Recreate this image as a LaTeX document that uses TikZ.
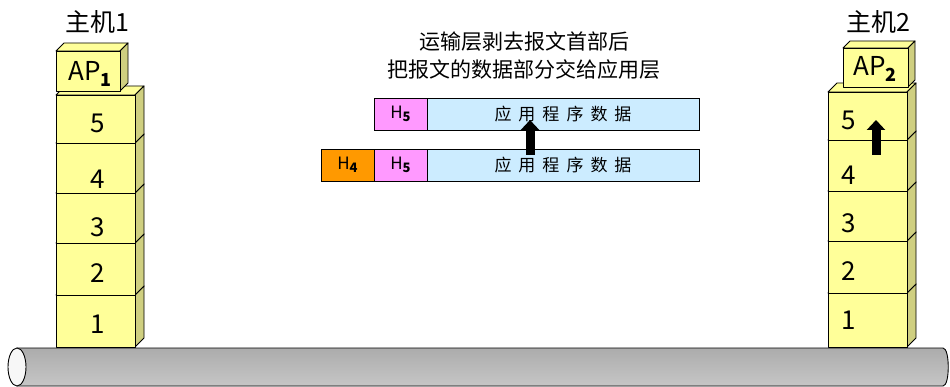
\documentclass[tikz,border=0pt]{standalone}
\usepackage{fontspec}
\setmainfont{Noto Sans CJK SC}
\usetikzlibrary{arrows.meta}
\definecolor{boxfront}{HTML}{FFFF99}
\definecolor{boxside}{HTML}{CFCF80}
\definecolor{hfour}{HTML}{FF9900}
\definecolor{hfive}{HTML}{FF99FF}
\definecolor{appdata}{HTML}{CCECFF}
\newcommand{\prismbox}[5]{%
  \filldraw[boxline,fill=boxfront] (#1,#2) -- (#1+#5,#2-#5) -- (#3+#5,#2-#5) -- (#3,#2) -- cycle;
  \filldraw[boxline,fill=boxside] (#3,#2) -- (#3+#5,#2-#5) -- (#3+#5,#4-#5) -- (#3,#4) -- cycle;
  \filldraw[boxline,fill=boxfront] (#1,#2) rectangle (#3,#4);
}
\newcommand{\subb}[1]{\raisebox{-0.4ex}{\fontsize{18}{18}\selectfont\bfseries #1}}
\newcommand{\subs}[1]{\raisebox{-0.35ex}{\fontsize{13}{13}\selectfont\bfseries #1}}
\begin{document}
\begin{tikzpicture}[x=1pt,y=-1pt,
  boxline/.style={draw=black,line width=0.9pt,line join=round},
  biglabel/.style={inner sep=0pt,font=\fontsize{25}{28}\selectfont},
  numlabel/.style={inner sep=0pt,font=\fontsize{26}{28}\selectfont},
  cell/.style={draw=black,line width=0.7pt,inner sep=0pt,minimum height=32pt,font=\fontsize{17}{20}\selectfont},
  blockarrow/.style={line width=9pt,-{Triangle[width=18pt,length=10pt]}}]
\useasboundingbox (0,0) rectangle (950,387);
% pipe
\shade[top color=gray!65,middle color=gray!10,bottom color=gray!45,draw=black,line width=0.9pt]
  (17,348) -- (943,348) .. controls (950,348) and (950,386) .. (943,386) -- (17,386) -- cycle;
\filldraw[fill=gray!6,draw=black,line width=0.9pt] (17,367) ellipse[x radius=9,y radius=19];
% host 1
\foreach \a/\b in {295/347,243/295,193/243,143/193,95/143} {\prismbox{56}{\a}{135}{\b}{9}}
\prismbox{56}{51}{120}{91}{8}
\node[biglabel] (h1) at (97,22) {主机1};
\node[numlabel] (a1) at (90,74) {AP\subb{1}};
\node[numlabel] (n15) at (98,123) {5};
\node[numlabel] (n14) at (98,179) {4};
\node[numlabel] (n13) at (98,227) {3};
\node[numlabel] (n12) at (98,273) {2};
\node[numlabel] (n11) at (98,324) {1};
% host 2
\foreach \a/\b in {293/347,241/293,191/241,140/191,92/140} {\prismbox{828}{\a}{907}{\b}{9}}
\prismbox{843}{48}{908}{87}{7}
\node[biglabel] (h2) at (878,22) {主机2};
\node[numlabel] (a2) at (875,69) {AP\subb{2}};
\node[numlabel] (n25) at (849,120) {5};
\node[numlabel] (n24) at (849,175) {4};
\node[numlabel] (n23) at (849,223) {3};
\node[numlabel] (n22) at (849,271) {2};
\node[numlabel] (n21) at (849,320) {1};
\coordinate (u2s) at (876,155);
\coordinate (u2e) at (876,120);
\draw[blockarrow] (u2s) -- (u2e);
% caption
\node[inner sep=0pt,align=center,font=\fontsize{21}{28}\selectfont] (cap) at (524,56) {运输层剥去报文首部后\\把报文的数据部分交给应用层};
% upper bar
\node[cell,fill=hfive,minimum width=53pt] (uh5) at (400.5,114) {H\subs{5}};
\node[cell,fill=appdata,minimum width=272pt] (ud) at (563,114) {应\hspace{7pt}用\hspace{7pt}程\hspace{7pt}序\hspace{7pt}数\hspace{7pt}据};
% lower bar
\node[cell,fill=hfour,minimum width=53pt] (lh4) at (347.5,165) {H\subs{4}};
\node[cell,fill=hfive,minimum width=53pt] (lh5) at (400.5,165) {H\subs{5}};
\node[cell,fill=appdata,minimum width=272pt] (ld) at (563,165) {应\hspace{7pt}用\hspace{7pt}程\hspace{7pt}序\hspace{7pt}数\hspace{7pt}据};
\coordinate (ms) at (530,155);
\coordinate (me) at (530,120);
\draw[blockarrow] (ms) -- (me);
\end{tikzpicture}
\end{document}
